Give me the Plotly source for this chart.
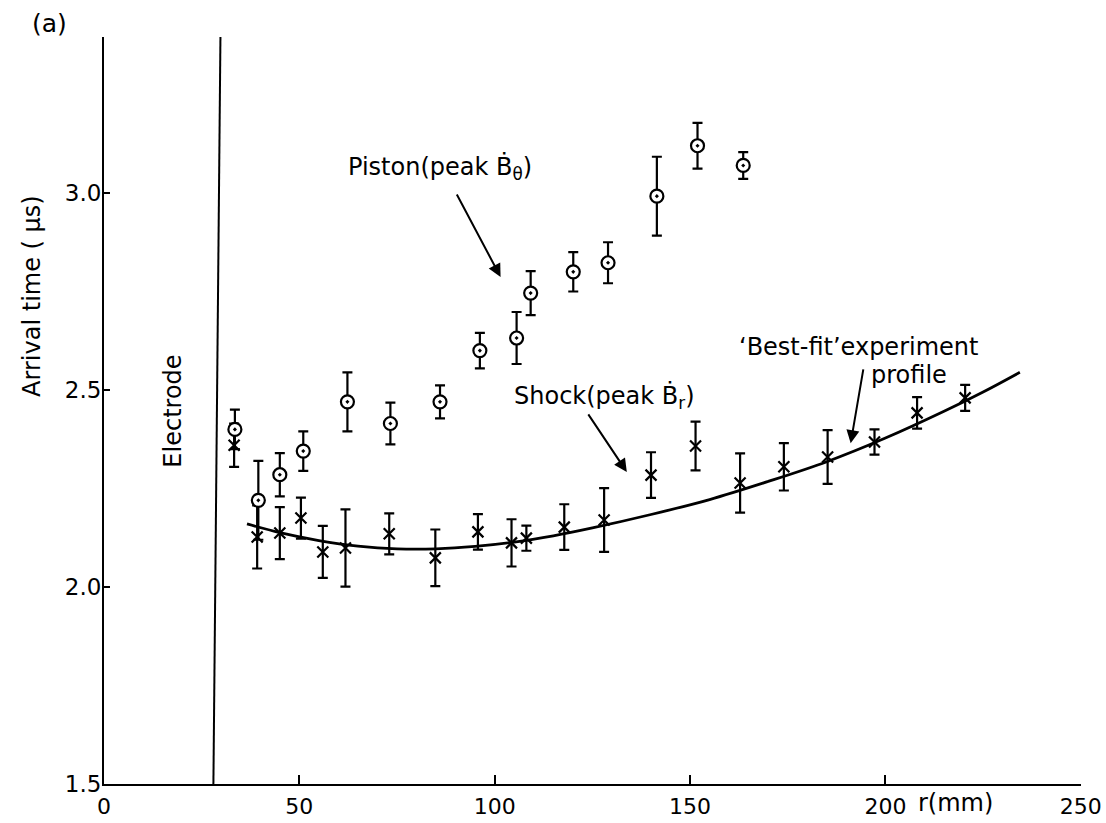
import plotly.graph_objects as go

# ---- data ----
piston_r = [33.5, 39.5, 45.0, 51.0, 62.3, 73.3, 86.0, 96.2, 105.6, 109.2, 120.1, 129.0, 141.5, 151.9, 163.6]
piston_t = [2.40, 2.22, 2.285, 2.345, 2.47, 2.415, 2.47, 2.60, 2.632, 2.746, 2.80, 2.823, 2.992, 3.12, 3.07]
piston_err = [0.05, 0.10, 0.055, 0.05, 0.075, 0.053, 0.042, 0.045, 0.066, 0.056, 0.05, 0.052, 0.10, 0.058, 0.034]

shock_r = [33.3, 39.2, 45.0, 50.4, 56.0, 61.8, 73.0, 84.8, 95.7, 104.3, 108.1, 117.8, 128.0, 140.0,
           151.4, 162.8, 174.0, 185.2, 197.2, 208.1, 220.4]
shock_t = [2.36, 2.127, 2.137, 2.175, 2.089, 2.099, 2.135, 2.074, 2.140, 2.112, 2.124, 2.152, 2.170, 2.284,
           2.358, 2.264, 2.305, 2.330, 2.368, 2.442, 2.480]
shock_err = [0.055, 0.08, 0.066, 0.052, 0.066, 0.098, 0.052, 0.072, 0.045, 0.06, 0.032, 0.058, 0.081, 0.058,
             0.062, 0.075, 0.06, 0.068, 0.032, 0.04, 0.033]

fit_r = [36.6, 45, 55, 65, 75, 85, 95, 105, 115, 125, 140, 155, 170, 185, 200, 215, 225, 234.4]
fit_t = [2.160, 2.138, 2.118, 2.104, 2.097, 2.097, 2.103, 2.114, 2.130, 2.150, 2.184, 2.222, 2.268,
         2.318, 2.378, 2.446, 2.495, 2.545]

electrode_r = 28.0

x_ticks = [0, 50, 100, 150, 200, 250]
y_ticks = [1.5, 2.0, 2.5, 3.0]
y_tick_text = ["1.5", "2.0", "2.5", "3.0"]

FONT = "DejaVu Sans"
TS = 24

fig = go.Figure()

fig.add_trace(go.Scatter(
    x=fit_r, y=fit_t, mode="lines",
    line=dict(color="black", width=2.8, shape="spline", smoothing=1.0),
    hoverinfo="skip", showlegend=False))

fig.add_trace(go.Scatter(
    x=shock_r, y=shock_t, mode="markers",
    marker=dict(symbol="x-thin", size=11, color="black", line=dict(color="black", width=2.2)),
    error_y=dict(type="data", array=shock_err, visible=True, color="black", thickness=2.2, width=5),
    showlegend=False))

fig.add_trace(go.Scatter(
    x=piston_r, y=piston_t, mode="markers",
    marker=dict(symbol="circle-dot", size=13, color="white", line=dict(color="black", width=2.2)),
    error_y=dict(type="data", array=piston_err, visible=True, color="black", thickness=2.2, width=5),
    showlegend=False))

# electrode line
fig.add_shape(type="line", xref="x", yref="paper", x0=electrode_r, x1=electrode_r + 1.8,
              y0=0, y1=1, line=dict(color="black", width=2))

annots = []
annots.append(dict(text="Electrode", x=17.6, y=2.447, xref="x", yref="y", showarrow=False,
                   xanchor="center", yanchor="middle",
                   textangle=-90, font=dict(size=TS, family=FONT, color="black")))
annots.append(dict(text="Piston(peak Ḃ<sub>θ</sub>)", x=86.0, y=3.063, xref="x", yref="y",
                   showarrow=False, font=dict(size=TS, family=FONT, color="black")))
annots.append(dict(text="Shock(peak Ḃ<sub>r</sub>)", x=128.2, y=2.482, xref="x", yref="y",
                   showarrow=False, font=dict(size=TS, family=FONT, color="black")))
annots.append(dict(text="‘Best-fit’experiment", x=193.1, y=2.609, xref="x", yref="y",
                   showarrow=False, font=dict(size=TS, family=FONT, color="black")))
annots.append(dict(text="profile", x=206.1, y=2.538, xref="x", yref="y",
                   showarrow=False, font=dict(size=TS, family=FONT, color="black")))
# arrows
for (hx, hy, tx, ty) in [(101.5, 2.787, 90.1, 3.0), (133.8, 2.292, 123.7, 2.442), (191.1, 2.365, 194.4, 2.556)]:
    annots.append(dict(text="", x=hx, y=hy, ax=tx, ay=ty, xref="x", yref="y", axref="x", ayref="y",
                       showarrow=True, arrowhead=2, arrowsize=1.3, arrowwidth=2, arrowcolor="black"))
annots.append(dict(text="(a)", x=-0.056, y=1.0, xref="paper", yref="paper", xanchor="center", yanchor="bottom",
                   yshift=-3, showarrow=False, font=dict(size=25, family=FONT, color="black")))
annots.append(dict(text="Arrival time ( μs)", x=-0.073, y=0.653, xref="paper", yref="paper",
                   xanchor="center", yanchor="middle",
                   textangle=-90, showarrow=False, font=dict(size=TS, family=FONT, color="black")))
annots.append(dict(text="r(mm)", x=218, y=0, xref="x", yref="paper", yanchor="top", yshift=-3,
                   showarrow=False, font=dict(size=TS, family=FONT, color="black")))

fig.update_layout(
    width=1106, height=823,
    margin=dict(l=104, r=25, t=37, b=39, autoexpand=False),
    paper_bgcolor="white", plot_bgcolor="white",
    annotations=annots,
    xaxis=dict(range=[0, 250.05], tickvals=x_ticks, ticktext=[str(v) for v in x_ticks],
               automargin=False,
               showgrid=False, zeroline=False, showline=True, linecolor="black", linewidth=2,
               ticks="inside", ticklen=9, tickwidth=2, tickcolor="black", ticklabeloverflow="allow",
               ticklabelstandoff=2,
               tickfont=dict(size=22, family=FONT, color="black")),
    yaxis=dict(range=[1.5, 3.396], tickvals=y_ticks, ticktext=y_tick_text,
               automargin=False,
               showgrid=False, zeroline=False, showline=True, linecolor="black", linewidth=2,
               ticks="inside", ticklen=6, tickwidth=2, tickcolor="black", ticklabeloverflow="allow",
               ticklabelstandoff=-4,
               tickfont=dict(size=23, family=FONT, color="black")),
)

fig.write_html("out.html")
